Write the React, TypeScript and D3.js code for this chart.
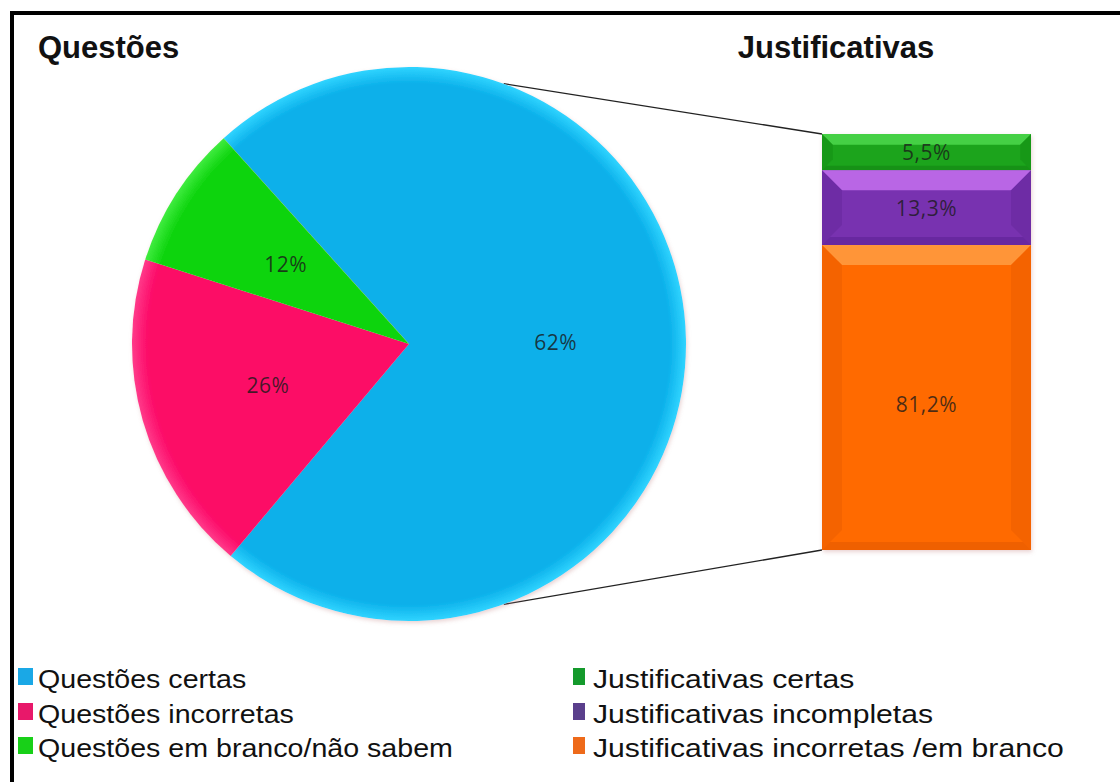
import React, { useMemo } from 'react';
import * as d3 from 'd3';

const W = 1120;
const H = 782;

// Pie: slice shares as drawn in the picture, labels as printed on it
const pieKeys = ['Questões certas', 'Questões incorretas', 'Questões em branco/não sabem'];
const pieShares = [72.8, 18.8, 8.4];
const pieLabels = ['62%', '26%', '12%'];
const pieColors = ['#0bb0ea', '#fc0866', '#0ed40e'];
const pieRims = ['#30d4ff', '#ff3a8a', '#40ec40'];
const pieLegend = ['#1aa8e6', '#e8186a', '#18d018'];

// Bar: stacked top to bottom
const barKeys = ['Justificativas certas', 'Justificativas incompletas', 'Justificativas incorretas /em branco'];
const barShares = [8.7, 18.0, 73.3];
const barLabels = ['5,5%', '13,3%', '81,2%'];
const barColors = ['#1ca41c', '#7830b0', '#ff6a00'];
const barLight = ['#4cd84c', '#c470ee', '#ff9c42'];
const barDark = ['#128612', '#5e2296', '#e45a00'];
const barLegend = ['#149a2c', '#5a3f8c', '#ee6a1a'];

const PIE = { cx: 409, cy: 344, r: 277, start: -42 };
const BAR = { x0: 822, x1: 1031, y0: 134, y1: 550 };
const LINK_ANGLE = 20; // where the connector lines leave the pie, degrees from vertical

const rad = (deg: number) => (deg * Math.PI) / 180;

const App: React.FC = () => {
  const arcs = useMemo(() => {
    const s = rad(PIE.start);
    return d3.pie<number>().sort(null).startAngle(s).endAngle(s + Math.PI * 2)(pieShares);
  }, []);
  const arc = d3.arc<d3.PieArcDatum<number>>().innerRadius(0).outerRadius(PIE.r);
  const labelArc = d3.arc<d3.PieArcDatum<number>>().innerRadius(PIE.r * 0.53).outerRadius(PIE.r * 0.53);

  const y = d3.scaleLinear().domain([0, d3.sum(barShares)]).range([BAR.y0, BAR.y1]);
  const stacked = barShares.map((v, i) => {
    const before = d3.sum(barShares.slice(0, i));
    return { i, top: y(before), bot: y(before + v) };
  });

  const linkTop = [PIE.cx + PIE.r * Math.sin(rad(LINK_ANGLE)), PIE.cy - PIE.r * Math.cos(rad(LINK_ANGLE))];
  const linkBot = [PIE.cx + PIE.r * Math.sin(rad(180 - LINK_ANGLE)), PIE.cy - PIE.r * Math.cos(rad(180 - LINK_ANGLE))];

  const legendRows = [688, 723, 757];
  const font = '"Liberation Sans", Arial, sans-serif';
  const labelFont = '"Open Sans", sans-serif';

  return (
    <svg width={W} height={H} style={{ position: 'fixed', left: 0, top: 0, background: '#fff' }}>
      <defs>
        {pieColors.map((c, i) => (
          <radialGradient key={i} id={`pg${i}`} cx={0} cy={0} r={PIE.r} gradientUnits="userSpaceOnUse">
            <stop offset="0" stopColor={c} />
            <stop offset="0.94" stopColor={c} />
            <stop offset="1" stopColor={pieRims[i]} />
          </radialGradient>
        ))}
        <filter id="soft" x="-10%" y="-10%" width="120%" height="120%">
          <feDropShadow dx="1" dy="2" stdDeviation="2" floodColor="#c08080" floodOpacity="0.35" />
        </filter>
      </defs>

      {/* frame */}
      <line x1={10} x2={W} y1={13} y2={13} stroke="#000" strokeWidth={4} />
      <line x1={12} x2={12} y1={11} y2={H} stroke="#000" strokeWidth={4} />

      {/* titles */}
      <text x={38} y={58} fontFamily={font} fontWeight="bold" fontSize={31} fill="#111">Questões</text>
      <text x={836} y={58} textAnchor="middle" fontFamily={font} fontWeight="bold" fontSize={31} fill="#111">
        Justificativas
      </text>

      {/* connector lines */}
      <line x1={linkTop[0]} y1={linkTop[1]} x2={BAR.x0} y2={BAR.y0} stroke="#222" strokeWidth={1.3} />
      <line x1={linkBot[0]} y1={linkBot[1]} x2={BAR.x0} y2={BAR.y1} stroke="#222" strokeWidth={1.3} />

      {/* pie */}
      <g transform={`translate(${PIE.cx},${PIE.cy})`}>
        <g filter="url(#soft)">
          {arcs.map((a, i) => (
            <path key={i} d={arc(a) ?? undefined} fill={`url(#pg${i})`} />
          ))}
        </g>
        {arcs.map((a, i) => {
          const [lx, ly] = labelArc.centroid(a);
          return (
            <text key={i} x={lx} y={ly} textAnchor="middle" dominantBaseline="central"
              fontFamily={labelFont} fontSize={21} letterSpacing={0.5} fill="#1a1a1a" fillOpacity={0.82}>
              {pieLabels[i]}
            </text>
          );
        })}
      </g>

      {/* bar of pie */}
      <g filter="url(#soft)">
        {stacked.map(s => (
          <rect key={s.i} x={BAR.x0} y={s.top} width={BAR.x1 - BAR.x0} height={s.bot - s.top} fill={barColors[s.i]} />
        ))}
      </g>
      {stacked.map(s => {
        const { x0, x1 } = BAR;
        const b = Math.min(20, (s.bot - s.top) * 0.3);
        const t = s.top;
        const u = s.bot;
        return (
          <g key={s.i}>
            <polygon points={`${x0},${t} ${x1},${t} ${x1 - b},${t + b} ${x0 + b},${t + b}`} fill={barLight[s.i]} opacity={0.85} />
            <polygon points={`${x0},${t} ${x0 + b},${t + b} ${x0 + b},${u - b} ${x0},${u}`} fill={barDark[s.i]} opacity={0.4} />
            <polygon points={`${x1},${t} ${x1 - b},${t + b} ${x1 - b},${u - b} ${x1},${u}`} fill={barDark[s.i]} opacity={0.4} />
            <polygon points={`${x0},${u} ${x1},${u} ${x1 - b * 0.4},${u - b * 0.4} ${x0 + b * 0.4},${u - b * 0.4}`} fill={barDark[s.i]} opacity={0.6} />
            <text x={(x0 + x1) / 2} y={(t + u) / 2 + (s.i === 2 ? 6 : 0)} textAnchor="middle" dominantBaseline="central"
              fontFamily={labelFont} fontSize={21} letterSpacing={0.5} fill="#1a1a1a" fillOpacity={0.78}>
              {barLabels[s.i]}
            </text>
          </g>
        );
      })}

      {/* legend */}
      {pieKeys.map((k, i) => (
        <g key={k}>
          <rect x={18} y={legendRows[i] - 20} width={15} height={17} fill={pieLegend[i]} />
          <text transform={`translate(38,${legendRows[i]}) scale(1.1,1)`} fontFamily={font} fontSize={26} fill="#111">{k}</text>
        </g>
      ))}
      {barKeys.map((k, i) => (
        <g key={k}>
          <rect x={573} y={legendRows[i] - 20} width={12} height={17} fill={barLegend[i]} />
          <text transform={`translate(593,${legendRows[i]}) scale(1.16,1)`} fontFamily={font} fontSize={26} fill="#111">{k}</text>
        </g>
      ))}
    </svg>
  );
};

export default App;
